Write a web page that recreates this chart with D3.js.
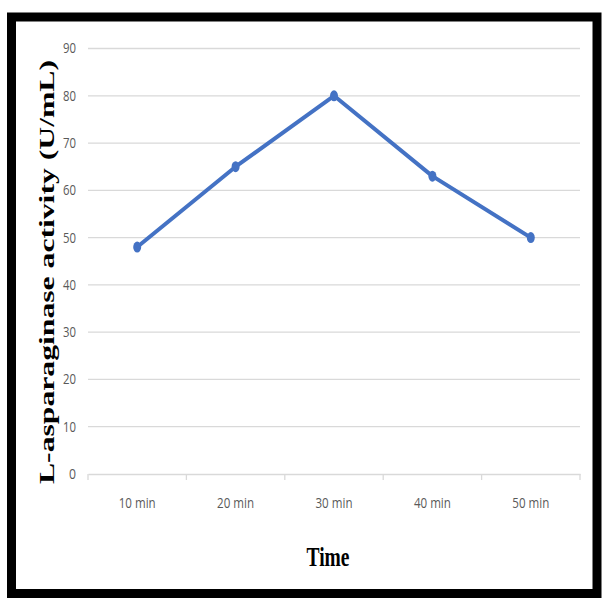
<!DOCTYPE html>
<html><head><meta charset="utf-8">
<script src="https://cdn.jsdelivr.net/npm/d3@7"></script>
<style>body{margin:0;background:#fff}</style>
</head><body>
<script>
const categories = ["10 min","20 min","30 min","40 min","50 min"];
const values = [48, 65, 80, 63, 50];
const yTicks = [0,10,20,30,40,50,60,70,80,90];
const yTitle = "L-asparaginase activity (U/mL)";
const xTitle = "Time";

(function(){
const W = 603, H = 599;
const svg = d3.select("body").append("svg").attr("width", W).attr("height", H);
svg.append("rect").attr("width", W).attr("height", H).attr("fill", "#fff");

// frame
svg.append("rect").attr("x", 11.5).attr("y", 17).attr("width", 585.5).attr("height", 576.5)
  .attr("fill", "none").attr("stroke", "#000").attr("stroke-width", 9);

const pLeft = 88, pRight = 580, pTop = 48.5, pBottom = 474;
const x = d3.scaleBand().domain(categories).range([pLeft, pRight]).padding(0);
const y = d3.scaleLinear().domain([0, 90]).range([pBottom, pTop]);
const labFont = "'Open Sans', sans-serif";

// gridlines
svg.append("g").selectAll("line").data(yTicks.filter(d => d > 0)).join("line")
  .attr("x1", pLeft).attr("x2", pRight).attr("y1", d => y(d)).attr("y2", d => y(d))
  .attr("stroke", "#d9d9d9").attr("stroke-width", 1.3);

// y axis labels
const yAxis = d3.axisLeft(y).tickValues(yTicks).tickSize(0).tickPadding(12);
const gy = svg.append("g").attr("transform", `translate(${pLeft},0)`).call(yAxis);
gy.select(".domain").remove();
gy.selectAll("text").attr("fill", "#595959").style("font-family", labFont).style("font-size", "14px")
  .attr("textLength", d => d === 0 ? 7 : 13).attr("lengthAdjust", "spacingAndGlyphs");

// x axis
const xAxis = d3.axisBottom(x).tickSize(0).tickPadding(24);
const gx = svg.append("g").attr("transform", `translate(0,${pBottom})`).call(xAxis);
gx.select(".domain").attr("stroke", "#d9d9d9").attr("stroke-width", 1.3);
gx.selectAll("text").attr("fill", "#595959").style("font-family", labFont).style("font-size", "14px")
  .attr("textLength", 37).attr("lengthAdjust", "spacingAndGlyphs");
const bounds = categories.map(c => x(c)).concat([x(categories[categories.length-1]) + x.bandwidth()]);
svg.append("g").selectAll("line").data(bounds).join("line")
  .attr("x1", d => d).attr("x2", d => d).attr("y1", pBottom).attr("y2", pBottom + 6)
  .attr("stroke", "#d9d9d9").attr("stroke-width", 1.3);

// line
const pts = categories.map((c, i) => [x(c) + x.bandwidth()/2, y(values[i])]);
svg.append("path").attr("d", d3.line()(pts)).attr("fill", "none")
  .attr("stroke", "#4472C4").attr("stroke-width", 4).attr("stroke-linejoin", "round");
svg.append("g").selectAll("ellipse").data(pts).join("ellipse")
  .attr("cx", d => d[0]).attr("cy", d => d[1]).attr("rx", 4).attr("ry", 5.5)
  .attr("fill", "#4472C4");

// titles
svg.append("text").attr("transform", `translate(54,272) rotate(-90)`)
  .attr("text-anchor", "middle").style("font-family", "'Liberation Serif', 'Times New Roman', serif")
  .style("font-weight", "bold").style("font-size", "21px").attr("fill", "#000")
  .attr("textLength", 424).attr("lengthAdjust", "spacingAndGlyphs").text(yTitle);
svg.append("text").attr("x", 328).attr("y", 566).attr("text-anchor", "middle")
  .style("font-family", "'Liberation Serif', 'Times New Roman', serif")
  .style("font-weight", "bold").style("font-size", "23px").attr("fill", "#000")
  .attr("transform", "translate(328,566) scale(0.85,1.15) translate(-328,-566)")
  .text(xTitle);
})();
</script>
</body></html>
